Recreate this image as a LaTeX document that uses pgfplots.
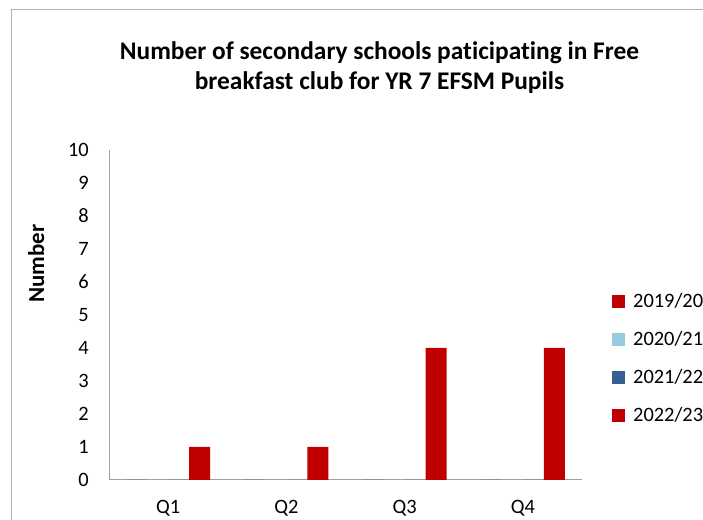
\documentclass[border=0pt]{standalone}
\usepackage{pgfplots}
\pgfplotsset{compat=1.18}
\usepackage{fontspec}
\setmainfont{Carlito}[Ligatures=NoCommon]
\definecolor{barred}{RGB}{192,0,0}
\definecolor{lblue}{RGB}{150,205,222}
\definecolor{dblue}{RGB}{54,96,146}
\definecolor{axgray}{RGB}{160,160,160}
\definecolor{framegray}{RGB}{178,178,178}
\begin{document}
\begin{tikzpicture}[x=1bp,y=1bp]
\useasboundingbox (0,0) rectangle (703,520);
\draw[framegray, line width=1.5bp] (11.5,-10) -- (11.5,510.5) -- (720,510.5);
\begin{axis}[
 at={(109bp,40bp)}, anchor=south west,
 scale only axis, width=473bp, height=330bp,
 xmin=-0.5, xmax=3.5, ymin=0, ymax=10,
 ybar=0pt, bar width=21bp,
 axis lines*=left, axis line style={axgray, line width=1bp},
 xtick={0,1,2,3}, xticklabels={Q1,Q2,Q3,Q4},
 ytick={0,1,...,10},
 major tick length=0pt,
 tick label style={font=\fontsize{20.5}{24}\selectfont},
 /pgf/number format/assume math mode=true,
 yticklabel style={inner sep=0pt, xshift=-20bp},
 xticklabel style={inner sep=0pt, yshift=-20bp},
 ylabel={\textbf{Number}},
 ylabel style={at={(rel axis cs:-0.154,0.655)}, anchor=center, rotate=0, font=\fontsize{23}{26}\selectfont},
 legend style={at={(rel axis cs:1.057,0.578)}, anchor=north west, draw=none, fill=none, font=\fontsize{20.5}{24}\selectfont, row sep=18.3bp, /tikz/every odd column/.append style={column sep=6bp}},
 legend cell align=left,
 legend image code/.code={\fill[#1] (0bp,-6.5bp) rectangle (13bp,6.5bp);},
 clip=false,
]
\addplot[fill=barred, draw=none] coordinates {(0,0) (1,0) (2,0) (3,0)};
\addlegendentry{2019/20}
\addplot[fill=lblue, draw=none] coordinates {(0,0) (1,0) (2,0) (3,0)};
\addlegendentry{2020/21}
\addplot[fill=dblue, draw=none] coordinates {(0,0) (1,0) (2,0) (3,0)};
\addlegendentry{2021/22}
\addplot[fill=barred, draw=none] coordinates {(0,1) (1,1) (2,4) (3,4)};
\addlegendentry{2022/23}
\end{axis}
\node[font=\fontsize{25.5}{30}\selectfont\bfseries, anchor=base] at (379.5,460) {Number of secondary schools paticipating in Free};
\node[font=\fontsize{25.5}{30}\selectfont\bfseries, anchor=base] at (379.5,430) {breakfast club for YR 7 EFSM Pupils};
\end{tikzpicture}
\end{document}
